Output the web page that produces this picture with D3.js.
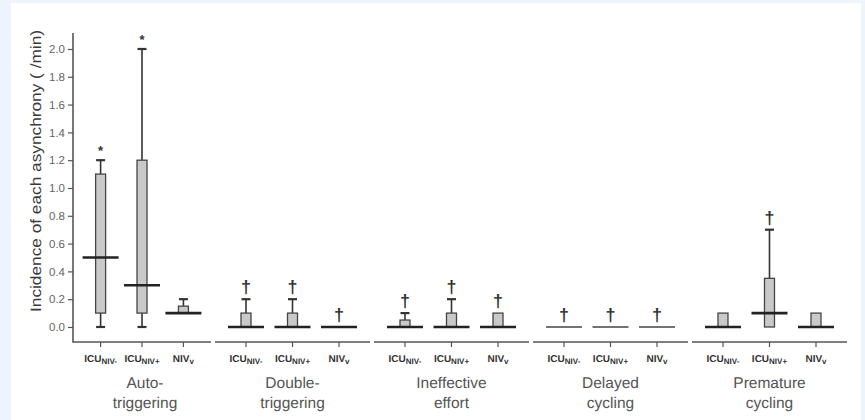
<!DOCTYPE html>
<html>
<head>
<meta charset="utf-8">
<script src="https://cdn.jsdelivr.net/npm/d3@7"></script>
<style>
  html, body { margin: 0; padding: 0; background: #edf4fc; }
  svg { display: block; }
  text { text-rendering: geometricPrecision; }
</style>
</head>
<body>
<svg id="chart" width="865" height="420"></svg>
<script>
// ---- data ----
const groups = ["Auto-triggering", "Double-triggering", "Ineffective effort", "Delayed cycling", "Premature cycling"];
const groupLines = [["Auto-", "triggering"], ["Double-", "triggering"], ["Ineffective", "effort"], ["Delayed", "cycling"], ["Premature", "cycling"]];
const subgroups = ["ICU_NIV-", "ICU_NIV+", "NIV_v"];
const subMain = ["ICU", "ICU", "NIV"];
const subSub = ["NIV-", "NIV+", "v"];
// per group, per subgroup: [min, q1, median, q3, max]
const autoTriggering    = [[0, 0.1, 0.5, 1.1, 1.2], [0, 0.1, 0.3, 1.2, 2.0], [0.1, 0.1, 0.1, 0.15, 0.2]];
const doubleTriggering  = [[0, 0, 0, 0.1, 0.2], [0, 0, 0, 0.1, 0.2], [0, 0, 0, 0, 0]];
const ineffectiveEffort = [[0, 0, 0, 0.05, 0.1], [0, 0, 0, 0.1, 0.2], [0, 0, 0, 0.1, 0.1]];
const delayedCycling    = [[0, 0, 0, 0, 0], [0, 0, 0, 0, 0], [0, 0, 0, 0, 0]];
const prematureCycling  = [[0, 0, 0, 0.1, 0.1], [0, 0, 0.1, 0.35, 0.7], [0, 0, 0, 0.1, 0.1]];
const allStats = [autoTriggering, doubleTriggering, ineffectiveEffort, delayedCycling, prematureCycling];
const marks = [["*", "*", ""], ["†", "†", "†"], ["†", "†", "†"], ["†", "†", "†"], ["", "†", ""]];
const yTicks = [0, 0.2, 0.4, 0.6, 0.8, 1.0, 1.2, 1.4, 1.6, 1.8, 2.0];
const yLabel = "Incidence of each asynchrony ( /min)";

// ---- layout ----
const svg = d3.select("#chart");
svg.append("rect").attr("x", 11).attr("y", 3).attr("width", 850).attr("height", 420).attr("fill", "#ffffff");

const axisX = 73;
const axisY = 342;
const y = d3.scaleLinear().domain([-0.108, 2.115]).range([axisY, 33]);
const gx = d3.scaleBand().domain(groups).range([56, 847]).paddingInner(0.025);

function groupExtent(g) {
  const s = Math.max(gx(g), axisX);
  return [s, gx(g) + gx.bandwidth()];
}
function subX(g, i) {
  const [a, b] = groupExtent(g);
  const inner = d3.scalePoint().domain(subgroups).range([a + 0.2 * (b - a), a + 0.8 * (b - a)]);
  return inner(subgroups[i]);
}

const ink = "#333333";
const font = "Liberation Sans, Arial, sans-serif";

// y axis
const yAxisG = svg.append("g").attr("transform", `translate(${axisX},0)`)
  .call(d3.axisLeft(y).tickValues(yTicks).tickFormat(d3.format(".1f")).tickSize(5).tickSizeOuter(0));
yAxisG.select(".domain").remove();
yAxisG.selectAll(".tick line").attr("stroke", "#555").attr("stroke-width", 1.2);
yAxisG.selectAll(".tick text").attr("font-family", font)
  .attr("font-size", 11.5).attr("fill", "#666").attr("x", -8);
svg.append("line").attr("x1", axisX).attr("x2", axisX).attr("y1", y.range()[1]).attr("y2", axisY + 0.7)
  .attr("stroke", "#555").attr("stroke-width", 1.6);

// y label
svg.append("text")
  .attr("transform", `translate(36,${(30 + 312) / 2}) rotate(-90)`)
  .attr("text-anchor", "middle")
  .attr("font-family", font)
  .attr("font-size", 15)
  .attr("fill", "#3a3a3a")
  .attr("textLength", 282)
  .attr("lengthAdjust", "spacingAndGlyphs")
  .attr("dy", "0.35em")
  .text(yLabel);

// group baselines, ticks and labels
groups.forEach((g, gi) => {
  const [a, b] = groupExtent(g);
  svg.append("line").attr("x1", a).attr("x2", b).attr("y1", axisY).attr("y2", axisY)
    .attr("stroke", "#555").attr("stroke-width", 1.6);
  subgroups.forEach((s, si) => {
    const x = subX(g, si);
    svg.append("line").attr("x1", x).attr("x2", x).attr("y1", axisY).attr("y2", axisY + 5)
      .attr("stroke", "#555").attr("stroke-width", 1.2);
    const t = svg.append("text").attr("x", x).attr("y", 362).attr("text-anchor", "middle")
      .attr("font-family", font).attr("font-weight", "bold")
      .attr("fill", "#333");
    t.append("tspan").attr("font-size", 10).text(subMain[si]);
    t.append("tspan").attr("font-size", 8).attr("dy", 2).text(subSub[si]);
  });
  const cx = (a + b) / 2 + (gi === 0 ? 3 : 0);
  groupLines[gi].forEach((line, li) => {
    svg.append("text").attr("x", cx).attr("y", 388 + li * 20).attr("text-anchor", "middle")
      .attr("font-family", font).attr("font-size", 15.5)
      .attr("fill", "#555").text(line);
  });
});

// boxes
const boxW = 10, medW = 36, capW = 9;
groups.forEach((g, gi) => {
  allStats[gi].forEach((st, si) => {
    const [mn, q1, md, q3, mx] = st;
    const x = subX(g, si);
    const gEl = svg.append("g");
    // upper whisker
    if (mx > q3) {
      gEl.append("line").attr("x1", x).attr("x2", x).attr("y1", y(q3)).attr("y2", y(mx))
        .attr("stroke", ink).attr("stroke-width", 1.6);
      gEl.append("line").attr("x1", x - capW / 2).attr("x2", x + capW / 2).attr("y1", y(mx)).attr("y2", y(mx))
        .attr("stroke", ink).attr("stroke-width", 2.2);
    }
    // lower whisker
    if (mn < q1) {
      gEl.append("line").attr("x1", x).attr("x2", x).attr("y1", y(q1)).attr("y2", y(mn))
        .attr("stroke", ink).attr("stroke-width", 1.6);
      gEl.append("line").attr("x1", x - capW / 2).attr("x2", x + capW / 2).attr("y1", y(mn)).attr("y2", y(mn))
        .attr("stroke", ink).attr("stroke-width", 2.2);
    }
    // box
    if (q3 > q1) {
      gEl.append("rect").attr("x", x - boxW / 2).attr("y", y(q3)).attr("width", boxW)
        .attr("height", y(q1) - y(q3)).attr("fill", "#c9c9c9").attr("stroke", "#444").attr("stroke-width", 1.3);
    }
    // median
    const flat = mx === mn;
    gEl.append("line").attr("x1", x - medW / 2).attr("x2", x + medW / 2).attr("y1", y(md)).attr("y2", y(md))
      .attr("stroke", flat && gi === 3 ? "#444" : "#222").attr("stroke-width", flat && gi === 3 ? 1.5 : 2.6);
    // significance mark
    const m = marks[gi][si];
    if (m) {
      const top = y(mx);
      gEl.append("text").attr("x", x).attr("y", m === "*" ? top - 5 : top - 6)
        .attr("text-anchor", "middle").attr("font-family", font)
        .attr("font-weight", "bold")
        .attr("font-size", m === "*" ? 13 : 18).attr("fill", "#333").text(m);
    }
  });
});
</script>
</body>
</html>
